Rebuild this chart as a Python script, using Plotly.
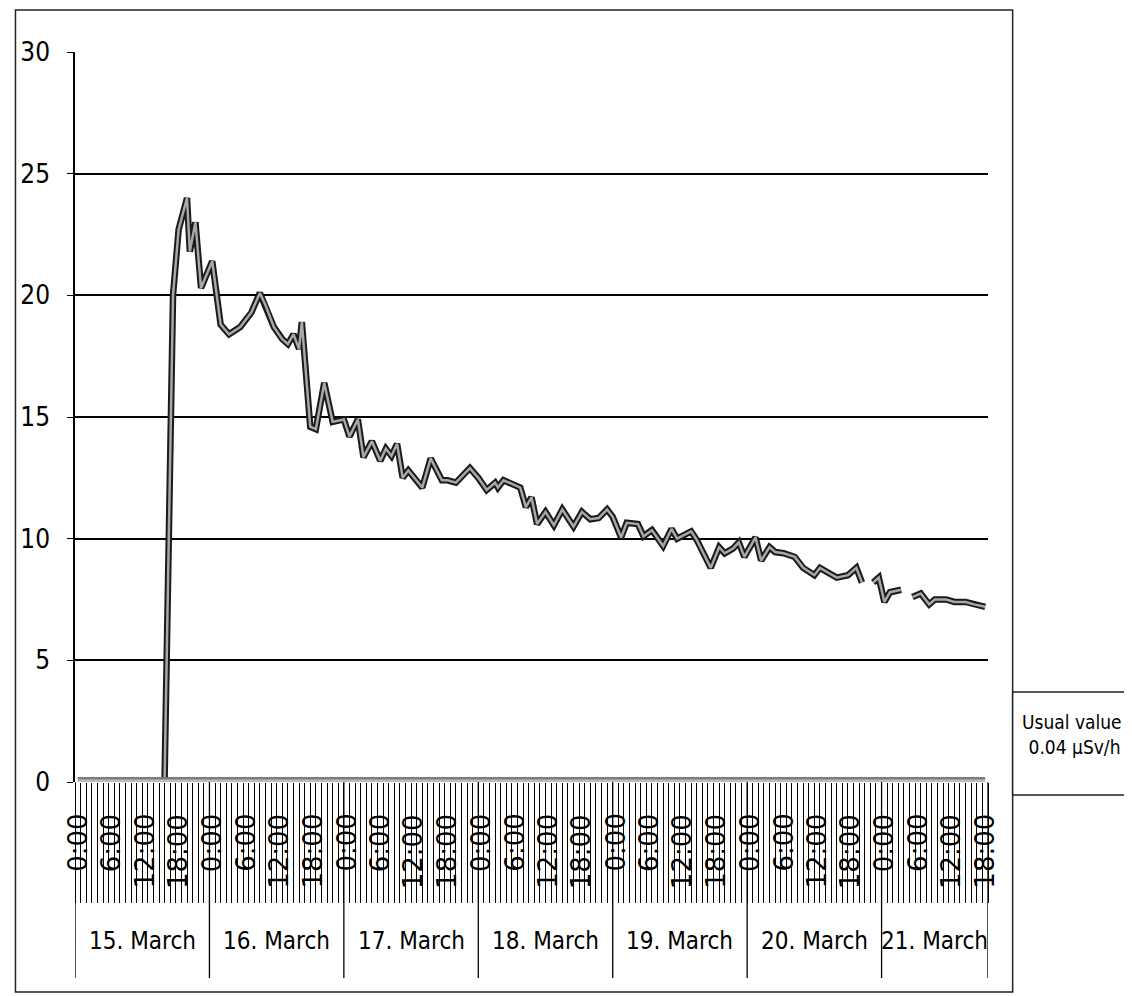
import pandas as pd
import plotly.graph_objects as go

# ---- data (µSv/h) ----
times = [
    "2011-03-15 15:30", "2011-03-15 17:00", "2011-03-15 18:00", "2011-03-15 19:30", "2011-03-15 20:00",
    "2011-03-15 21:00", "2011-03-15 22:00", "2011-03-16 00:00", "2011-03-16 01:30", "2011-03-16 03:00",
    "2011-03-16 05:00", "2011-03-16 07:00", "2011-03-16 08:30", "2011-03-16 09:30", "2011-03-16 11:00",
    "2011-03-16 12:30", "2011-03-16 13:30", "2011-03-16 14:30", "2011-03-16 15:30", "2011-03-16 16:00",
    "2011-03-16 17:30", "2011-03-16 18:30", "2011-03-16 20:00", "2011-03-16 21:30", "2011-03-16 23:30",
    "2011-03-17 00:30", "2011-03-17 02:00", "2011-03-17 03:00", "2011-03-17 04:30", "2011-03-17 06:00",
    "2011-03-17 07:00", "2011-03-17 08:00", "2011-03-17 09:00", "2011-03-17 10:00", "2011-03-17 11:00",
    "2011-03-17 13:30", "2011-03-17 15:00", "2011-03-17 17:00", "2011-03-17 18:00", "2011-03-17 19:30",
    "2011-03-17 22:00", "2011-03-17 23:30", "2011-03-18 01:00", "2011-03-18 02:30", "2011-03-18 03:00",
    "2011-03-18 04:00", "2011-03-18 07:00", "2011-03-18 08:00", "2011-03-18 09:00", "2011-03-18 10:00",
    "2011-03-18 11:30", "2011-03-18 13:00", "2011-03-18 14:30", "2011-03-18 16:30", "2011-03-18 18:00",
    "2011-03-18 19:30", "2011-03-18 21:00", "2011-03-18 22:30", "2011-03-18 23:30", "2011-03-19 01:00",
    "2011-03-19 02:00", "2011-03-19 04:00", "2011-03-19 05:00", "2011-03-19 06:30", "2011-03-19 08:30",
    "2011-03-19 10:00", "2011-03-19 11:00", "2011-03-19 13:30", "2011-03-19 14:30", "2011-03-19 17:00",
    "2011-03-19 18:30", "2011-03-19 19:30", "2011-03-19 21:00", "2011-03-19 22:00", "2011-03-19 23:00",
    "2011-03-20 01:00", "2011-03-20 02:00", "2011-03-20 03:30", "2011-03-20 04:30", "2011-03-20 06:00",
    "2011-03-20 08:00", "2011-03-20 09:30", "2011-03-20 11:30", "2011-03-20 12:30", "2011-03-20 14:00",
    "2011-03-20 15:30", "2011-03-20 17:30", "2011-03-20 19:00", "2011-03-20 20:00", "2011-03-20 21:00",
    "2011-03-20 22:00", "2011-03-20 23:00", "2011-03-21 00:00", "2011-03-21 01:00", "2011-03-21 03:00",
    "2011-03-21 04:00", "2011-03-21 05:00", "2011-03-21 06:30", "2011-03-21 08:00", "2011-03-21 09:00",
    "2011-03-21 11:00", "2011-03-21 12:30", "2011-03-21 14:30", "2011-03-21 16:00", "2011-03-21 18:00",
]
values = [
    0.2, 20.0, 22.7, 24.0, 21.8,
    23.0, 20.3, 21.4, 18.8, 18.4,
    18.7, 19.3, 20.1, 19.6, 18.7,
    18.2, 18.0, 18.4, 17.8, 18.9,
    14.6, 14.5, 16.4, 14.8, 14.9,
    14.2, 14.9, 13.35, 14.0, 13.2,
    13.7, 13.4, 13.9, 12.5, 12.8,
    12.1, 13.3, 12.4, 12.4, 12.3,
    12.9, 12.5, 12.0, 12.3, 12.1,
    12.4, 12.1, 11.3, 11.7, 10.6,
    11.1, 10.55, 11.2, 10.5, 11.1,
    10.8, 10.85, 11.2, 10.9, 10.05,
    10.65, 10.6, 10.1, 10.35, 9.7,
    10.4, 10.0, 10.3, 9.95, 8.8,
    9.65, 9.4, 9.6, 9.85, 9.25,
    10.05, 9.1, 9.65, 9.45, 9.4,
    9.25, 8.8, 8.5, 8.8, 8.6,
    8.4, 8.5, 8.8, 8.2, None,
    8.2, 8.4, 7.4, 7.8, 7.9,
    None, 7.6, 7.75, 7.3, 7.5,
    7.5, 7.4, 7.4, 7.3, 7.2,
]

usual_times = ["2011-03-15 00:00", "2011-03-21 18:00"]
usual_values = [0.04, 0.04]

days = ["15. March", "16. March", "17. March", "18. March", "19. March", "20. March", "21. March"]
day_dates = ["2011-03-15", "2011-03-16", "2011-03-17", "2011-03-18", "2011-03-19", "2011-03-20", "2011-03-21"]
hour_labels = ["0:00", "6:00", "12:00", "18:00"]
last_hour = "2011-03-21 18:00"
yticks = [0, 5, 10, 15, 20, 25, 30]

NARROW = "DejaVu Sans Condensed, Liberation Sans Narrow, sans-serif"

half = pd.Timedelta(minutes=30)
x_start = pd.Timestamp(day_dates[0]) - half
x_end = pd.Timestamp(last_hour) + half

fig = go.Figure()
fig.add_trace(go.Scatter(x=usual_times, y=usual_values, mode="lines",
                         line=dict(color="#7d7d7d", width=8), hoverinfo="skip", showlegend=False))
fig.add_trace(go.Scatter(x=usual_times, y=usual_values, mode="lines",
                         line=dict(color="#bdbdbd", width=3), hoverinfo="skip", showlegend=False))
fig.add_trace(go.Scatter(x=times, y=values, mode="lines", connectgaps=False,
                         line=dict(color="#1a1a1a", width=6.5), showlegend=False))
fig.add_trace(go.Scatter(x=times, y=values, mode="lines", connectgaps=False,
                         line=dict(color="#a8a8a8", width=2.5), showlegend=False))

shapes = []
annotations = []
# day separators
bounds = [pd.Timestamp(d) - half for d in day_dates] + [x_end]
for b in bounds:
    shapes.append(dict(type="line", xref="x", yref="paper", x0=b, x1=b, y0=0, y1=-0.2685,
                       line=dict(color="black", width=1.3)))
for i, (d, lab) in enumerate(zip(day_dates, days)):
    mid = bounds[i] + (bounds[i + 1] - bounds[i]) / 2
    annotations.append(dict(x=mid, y=-0.2395, xref="x", yref="paper", text=lab, showarrow=False,
                            font=dict(family=NARROW, size=24, color="black")))
    for h in hour_labels:
        t = pd.Timestamp(d + " " + h)
        if t > pd.Timestamp(last_hour):
            continue
        annotations.append(dict(x=t, y=-0.041, xref="x", yref="paper", text=h, showarrow=False,
                                textangle=-90, xanchor="center", yanchor="top",
                                font=dict(family="DejaVu Sans", size=26, color="black")))

# outer chart frame and the "usual value" box
shapes.append(dict(type="rect", xref="paper", yref="paper", x0=-0.0652, x1=1.027, y0=-0.2877, y1=1.0575,
                   line=dict(color="#222", width=1.5)))
shapes.append(dict(type="rect", xref="paper", yref="paper", x0=1.027, x1=1.1555, y0=-0.0178, y1=0.1233,
                   line=dict(color="#222", width=1.5), fillcolor="white"))
annotations.append(dict(x=1.0915, y=0.0644, xref="paper", yref="paper", showarrow=False,
                        xanchor="center", yanchor="middle",
                        text="Usual value<br> 0.04 µSv/h", align="center",
                        font=dict(family=NARROW, size=19, color="black")))

fig.update_layout(
    width=1124, height=988,
    margin=dict(l=60, r=144, t=44, b=214),
    paper_bgcolor="white", plot_bgcolor="white",
    shapes=shapes, annotations=annotations,
    xaxis=dict(type="date", range=[x_start, x_end], showgrid=False, zeroline=False,
               showticklabels=False, ticks="outside", ticklen=120, tickwidth=1, tickcolor="black",
               tick0=x_start, dtick=3600000, showline=False),
    yaxis=dict(range=[0, 30], tickvals=yticks, showgrid=True, gridcolor="black", gridwidth=2,
               zeroline=False, showline=True, linecolor="black", linewidth=1.5,
               ticks="outside", ticklen=6, tickcolor="black",
               tickfont=dict(family=NARROW, size=26, color="black"), ticklabelstandoff=12),
)

fig.write_html("out.html")
